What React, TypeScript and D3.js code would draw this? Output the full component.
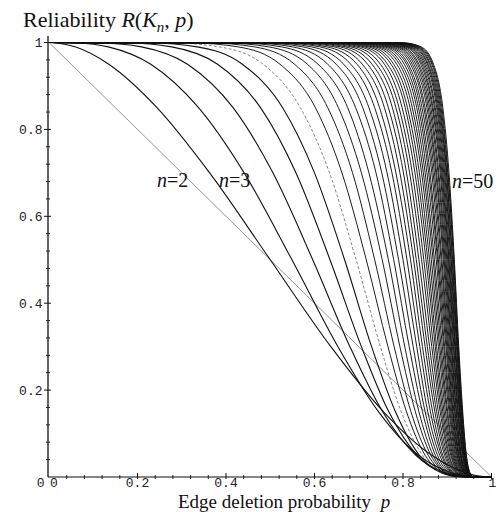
import React from 'react';
import * as d3 from 'd3';

// Reliability levels at which the deletion probability p was read for each curve
const LEVELS = [0.999, 0.99, 0.95, 0.85, 0.7, 0.5, 0.3, 0.15, 0.05, 0.01, 0.001];

// Number of vertices n of each curve
const N_VALUES = [
  2, 3, 4, 5, 6, 7, 8, 9, 10, 11, 12, 13, 14, 15, 16, 17, 18, 19, 20, 21, 22, 23, 24, 25, 26,
  27, 28, 29, 30, 31, 32, 33, 34, 35, 36, 37, 38, 39, 40, 41, 42, 43, 44, 45, 46, 47, 48, 49, 50,
];

// p (x1000) at which R(K_n, p) equals each of LEVELS, one row per n
const P_AT_LEVEL: number[][] = [
  [1, 10, 50, 150, 300, 500, 700, 850, 950, 990, 999],
  [18, 59, 135, 244, 363, 500, 637, 756, 865, 941, 982],
  [62, 134, 230, 338, 441, 549, 653, 745, 835, 909, 959],
  [118, 209, 313, 416, 506, 596, 680, 754, 829, 894, 943],
  [175, 277, 381, 478, 558, 635, 706, 768, 832, 888, 934],
  [228, 335, 437, 528, 600, 668, 729, 783, 837, 887, 929],
  [277, 384, 484, 568, 634, 694, 749, 796, 844, 888, 926],
  [320, 427, 522, 602, 662, 717, 766, 808, 850, 890, 925],
  [359, 464, 555, 630, 686, 736, 780, 818, 857, 893, 925],
  [394, 496, 584, 654, 706, 753, 793, 828, 863, 896, 925],
  [426, 525, 608, 675, 723, 767, 804, 836, 868, 898, 926],
  [454, 550, 630, 693, 739, 779, 814, 844, 873, 901, 927],
  [480, 573, 649, 709, 752, 790, 823, 850, 878, 904, 928],
  [503, 593, 666, 723, 764, 800, 831, 856, 883, 907, 929],
  [524, 612, 682, 736, 775, 809, 838, 862, 887, 910, 931],
  [544, 628, 696, 747, 784, 817, 844, 867, 890, 912, 932],
  [562, 644, 708, 758, 793, 824, 850, 872, 894, 914, 933],
  [578, 658, 720, 767, 801, 830, 855, 876, 897, 917, 935],
  [594, 670, 730, 776, 808, 836, 860, 880, 900, 919, 936],
  [608, 682, 740, 784, 815, 842, 865, 884, 903, 921, 937],
  [621, 693, 749, 791, 821, 847, 869, 887, 905, 922, 938],
  [633, 704, 758, 798, 827, 852, 873, 890, 908, 924, 939],
  [645, 713, 765, 805, 832, 856, 876, 893, 910, 926, 940],
  [656, 722, 773, 810, 837, 860, 880, 896, 912, 928, 942],
  [666, 730, 779, 816, 842, 864, 883, 899, 914, 929, 943],
  [675, 738, 786, 821, 846, 868, 886, 901, 916, 930, 944],
  [684, 745, 792, 826, 850, 871, 889, 904, 918, 932, 944],
  [693, 752, 797, 831, 854, 875, 892, 906, 920, 933, 945],
  [701, 759, 803, 835, 858, 878, 894, 908, 922, 934, 946],
  [708, 765, 808, 839, 861, 880, 897, 910, 923, 936, 947],
  [716, 771, 812, 843, 865, 883, 899, 912, 925, 937, 948],
  [722, 776, 817, 847, 868, 886, 901, 913, 926, 938, 949],
  [729, 782, 821, 850, 871, 888, 903, 915, 927, 939, 949],
  [735, 787, 825, 854, 874, 891, 905, 917, 929, 940, 950],
  [741, 791, 829, 857, 876, 893, 907, 918, 930, 941, 951],
  [747, 796, 833, 860, 879, 895, 909, 920, 931, 942, 952],
  [752, 800, 836, 863, 881, 897, 910, 921, 932, 943, 952],
  [757, 805, 840, 866, 884, 899, 912, 923, 934, 944, 953],
  [762, 809, 843, 868, 886, 901, 914, 924, 935, 944, 954],
  [767, 812, 846, 871, 888, 903, 915, 925, 936, 945, 954],
  [771, 816, 849, 873, 890, 904, 917, 927, 937, 946, 955],
  [776, 819, 852, 876, 892, 906, 918, 928, 938, 947, 955],
  [780, 823, 855, 878, 894, 908, 919, 929, 939, 948, 956],
  [784, 826, 857, 880, 896, 909, 921, 930, 939, 948, 956],
  [788, 829, 860, 882, 898, 911, 922, 931, 940, 949, 957],
  [791, 832, 862, 884, 899, 912, 923, 932, 941, 950, 957],
  [795, 835, 865, 886, 901, 914, 924, 933, 942, 950, 958],
  [799, 838, 867, 888, 902, 915, 925, 934, 943, 951, 958],
  [802, 841, 869, 890, 904, 916, 926, 935, 943, 951, 959],
];

const X_TICKS = [0, 0.2, 0.4, 0.6, 0.8, 1];
const X_TICK_LABELS = ['0', '0.2', '0.4', '0.6', '0.8', '1'];
const Y_TICKS = [0.2, 0.4, 0.6, 0.8, 1];
const Y_TICK_LABELS = ['0.2', '0.4', '0.6', '0.8', '1'];
const MINOR_TICKS = [0.04, 0.08, 0.12, 0.16, 0.24, 0.28, 0.32, 0.36, 0.44, 0.48, 0.52, 0.56, 0.64, 0.68, 0.72, 0.76, 0.84, 0.88, 0.92, 0.96];

const W = 499;
const H = 512;
const x = d3.scaleLinear().domain([0, 1]).range([49, 491.5]);
const y = d3.scaleLinear().domain([0, 1]).range([477, 42.5]);

const MONO = "'Liberation Mono', 'DejaVu Sans Mono', monospace";
const SERIF = "'Liberation Serif', 'DejaVu Serif', serif";

export default function App() {
  const line = d3
    .line<[number, number]>()
    .x((d) => x(d[0]))
    .y((d) => y(d[1]))
    .curve(d3.curveMonotoneX);

  const curves = N_VALUES.map((n, i) => {
    const pts: [number, number][] = [[0, 1]];
    LEVELS.forEach((L, j) => pts.push([P_AT_LEVEL[i][j] / 1000, L]));
    pts.push([1, 0]);
    return { n, d: line(pts) || '' };
  });

  const ax = x(0) - 1;
  const ay = y(0);

  return (
    <svg width={W} height={H} style={{ position: 'absolute', left: 0, top: 0 }}>
      <rect x={0} y={0} width={W} height={H} fill="#fff" />
      {/* curves */}
      <g fill="none">
        {curves.map((c) => {
          let stroke = '#111';
          let sw = 0.95;
          let dash: string | undefined;
          if (c.n === 2) {
            stroke = '#7a7a7a';
            sw = 0.8;
          } else if (c.n === 8) {
            stroke = '#666';
            sw = 0.8;
            dash = '3,2';
          } else if (c.n <= 7) {
            sw = 1.1;
          }
          return <path key={c.n} d={c.d} stroke={stroke} strokeWidth={sw} strokeDasharray={dash} />;
        })}
      </g>
      {/* axes */}
      <line x1={ax} y1={36} x2={ax} y2={ay} stroke="#111" strokeWidth={1.3} />
      <line x1={ax} y1={ay} x2={x(1) + 0.5} y2={ay} stroke="#111" strokeWidth={1.1} />
      {/* y ticks */}
      {Y_TICKS.map((t) => (
        <line key={'ym' + t} x1={ax - 4} y1={y(t)} x2={ax + 3} y2={y(t)} stroke="#111" strokeWidth={1} />
      ))}
      {MINOR_TICKS.map((t) => (
        <line key={'yn' + t} x1={ax - 2} y1={y(t)} x2={ax + 2} y2={y(t)} stroke="#111" strokeWidth={0.9} />
      ))}
      {/* x ticks */}
      {X_TICKS.filter((t) => t > 0).map((t) => (
        <line key={'xm' + t} x1={x(t)} y1={ay - 4} x2={x(t)} y2={ay + 2} stroke="#111" strokeWidth={1} />
      ))}
      {MINOR_TICKS.map((t) => (
        <line key={'xn' + t} x1={x(t)} y1={ay - 2} x2={x(t)} y2={ay + 2} stroke="#111" strokeWidth={0.9} />
      ))}
      {/* tick labels */}
      <g fontFamily={MONO} fontSize={13} fill="#222">
        {Y_TICKS.map((t, i) => (
          <text key={'yl' + t} x={42.5} y={y(t) + 4.5} textAnchor="end">
            {Y_TICK_LABELS[i]}
          </text>
        ))}
        <text x={44.5} y={487} textAnchor="end">0</text>
        {X_TICKS.map((t, i) =>
          t === 0 ? (
            <text key={'xl' + t} x={50} y={487}>
              {X_TICK_LABELS[i]}
            </text>
          ) : (
            <text key={'xl' + t} x={x(t) + (t === 1 ? 1 : 0)} y={487} textAnchor="middle">
              {X_TICK_LABELS[i]}
            </text>
          )
        )}
      </g>
      {/* axis titles */}
      <text x={23} y={27} fontFamily={SERIF} fontSize={22} fill="#111">
        Reliability <tspan fontStyle="italic">R</tspan>(<tspan fontStyle="italic">K</tspan>
        <tspan fontStyle="italic" fontSize={15} dy={5}>n</tspan>
        <tspan dy={-5}>,  </tspan>
        <tspan fontStyle="italic">p</tspan>)
      </text>
      <text x={178} y={508} fontFamily={SERIF} fontSize={19} fill="#111" style={{ whiteSpace: 'pre' }}>
        {'Edge deletion probability  '}
        <tspan fontStyle="italic">p</tspan>
      </text>
      {/* curve labels */}
      <g fontFamily={SERIF} fontSize={20} fill="#111">
        <text x={157} y={187}>
          <tspan fontStyle="italic">n</tspan>=2
        </text>
        <text x={219} y={187}>
          <tspan fontStyle="italic">n</tspan>=3
        </text>
        <text x={452} y={188}>
          <tspan fontStyle="italic">n</tspan>=50
        </text>
      </g>
    </svg>
  );
}
